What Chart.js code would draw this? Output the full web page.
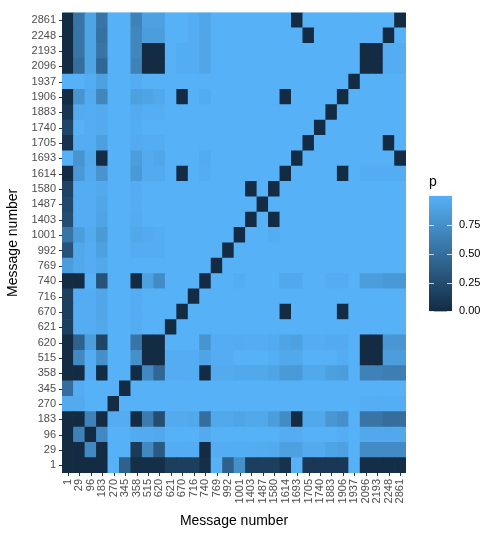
<!DOCTYPE html>
<html>
<head>
<meta charset="utf-8">
<title>Message number heatmap</title>
<script src="https://cdn.jsdelivr.net/npm/chart.js@4"></script>
<style>
    body { margin: 0; background: #ffffff; }
    #heat { position: absolute; left: 0; top: 0; }
    #bar { position: absolute; left: 420px; top: 165px; }
</style>
</head>
<body>
<canvas id="heat" width="498" height="536"></canvas>
<canvas id="bar" width="78" height="160"></canvas>
<script>
var messages = ['1','29','96','183','270','345','358','515','620','621',
    '670','716','740','769','992','1001','1403','1487','1580','1614',
    '1693','1705','1740','1883','1906','1937','2096','2193','2248','2861'];

var legendTicks = [0, 0.25, 0.5, 0.75];

// one line per y message, bottom row first, same column order as messages
var p = [
    [0,0,0,0,1,.4,.03,.03,.03,.15,  .15,.15,.03,1,.4,.75,.15,.15,.15,.05,  1,.1,.1,.1,.1,1,.02,.02,.02,.02],
    [0,0,.7,0,1,1,.12,.7,.35,.97,  .97,.97,0,.97,.97,.97,.97,.96,.95,.88,  .88,.95,.95,.9,.88,1,.72,.72,.72,.72],
    [0,.65,0,.7,1,1,.95,.95,.93,1,  1,1,.95,1,1,1,1,1,1,.97,  .97,1,1,1,.98,1,.93,.93,.93,.93],
    [0,0,.65,0,.97,.97,0,.6,.25,.95,  .95,.93,.5,.93,.93,.9,.93,.93,.85,.72,  0,.93,.93,.8,.75,1,.55,.55,.5,.5],
    [.95,.95,1,1,0,1,1,1,1,1,  1,1,1,1,1,1,1,1,1,1,  1,1,1,1,1,1,.98,.98,.98,.98],
    [.5,.97,1,1,1,0,1,1,1,1,  1,1,1,1,1,1,1,1,1,1,  1,1,1,1,1,1,1,1,1,1],
    [0,0,.97,0,1,1,0,.7,.45,.97,  .97,.97,0,.95,.95,.93,.93,.93,.9,.83,  .83,.93,.93,.87,.85,1,.65,.65,.62,.62],
    [0,.7,.97,.75,1,1,.75,0,0,.97,  .97,.97,.9,.97,.97,1,1,1,.98,.93,  .93,1,1,1,.97,1,0,0,.85,.85],
    [0,.4,.85,.2,1,1,.55,0,0,1,  1,1,.78,.97,.97,.96,.97,.97,.95,.9,  .88,.97,.97,.95,.95,1,0,0,.8,.8],
    [.15,.97,.97,.93,1,1,.97,1,1,0,  1,1,1,1,1,1,1,1,1,1,  1,1,1,1,1,1,1,1,1,1],
    [.15,.97,.97,.92,1,1,.97,1,1,1,  0,1,1,1,1,1,1,1,1,0,  1,1,1,1,0,1,1,1,1,1],
    [.15,.97,.97,.92,1,1,.97,1,1,1,  1,0,1,1,1,1,1,1,1,1,  1,1,1,1,1,1,1,1,1,1],
    [0,0,1,.3,1,1,0,.88,.72,1,  1,1,0,1,1,.97,1,1,1,.93,  .93,1,1,.97,.97,1,.85,.85,.82,.82],
    [.85,.93,.97,.93,1,1,1,1,1,1,  1,1,1,0,1,1,1,1,1,1,  1,1,1,1,1,1,1,1,1,1],
    [.3,.93,.97,.88,1,1,.97,.97,.97,1,  1,1,1,1,0,1,1,1,1,1,  1,1,1,1,1,1,1,1,1,1],
    [.55,.85,.95,.83,1,1,.93,.95,.97,1,  1,1,1,1,1,0,1,1,.97,1,  1,1,1,1,1,1,1,1,1,1],
    [.25,.97,.97,.9,1,1,.96,1,1,1,  1,1,1,1,1,1,0,1,0,1,  1,1,1,1,1,1,1,1,1,1],
    [.22,.97,.97,.92,1,1,.97,1,1,1,  1,1,1,1,1,1,1,0,1,1,  1,1,1,1,1,1,1,1,1,1],
    [.18,.97,.97,.94,1,1,.97,1,1,1,  1,1,1,1,1,1,0,1,0,1,  1,1,1,1,1,1,1,1,1,1],
    [0,.82,.95,.78,1,1,.82,.95,.95,1,  0,1,.97,1,1,1,1,1,1,0,  1,1,1,1,0,1,.97,.97,.97,.97],
    [1,.78,.93,0,1,1,.85,.95,.92,1,  1,1,.96,1,1,1,1,1,1,1,  0,1,1,1,1,1,1,1,1,0],
    [.05,.97,.97,.87,1,1,.95,.97,.97,1,  1,1,1,1,1,1,1,1,1,1,  1,0,1,1,1,1,1,1,0,1],
    [.2,1,.97,.95,1,1,.97,1,1,1,  1,1,1,1,1,1,1,1,1,1,  1,1,0,1,1,1,1,1,1,1],
    [.08,.95,.97,.95,1,1,.95,.98,.98,1,  1,1,1,1,1,1,1,1,1,1,  1,1,1,0,1,1,1,1,1,1],
    [0,.78,.95,.68,1,1,.88,.9,.93,1,  0,1,.96,1,1,1,1,1,1,0,  1,1,1,1,0,1,1,1,1,1],
    [1,1,.97,.88,1,1,.97,1,1,1,  1,1,1,1,1,1,1,1,1,1,  1,1,1,1,1,0,1,1,1,1],
    [0,.5,.9,.45,1,1,.65,0,0,1,  .97,.97,.92,1,1,1,1,1,1,1,  1,1,1,1,1,1,0,0,.97,.97],
    [0,.55,.9,.55,1,1,.68,0,0,1,  .97,.97,.92,1,1,1,1,1,1,1,  1,1,1,1,1,1,0,0,.97,.97],
    [0,.55,.9,.52,1,1,.68,.85,.85,1,  1,.97,.92,1,1,1,1,1,1,1,  1,0,1,1,1,1,1,1,0,1],
    [0,.55,.9,.55,1,1,.65,.88,.88,1,  1,.97,.92,1,1,1,1,1,1,1,  0,1,1,1,1,1,1,1,1,0]
];

var lowColor = [19, 43, 67];
var highColor = [86, 177, 247];
var textGrey = '#4d4d4d';
var fontName = '"Liberation Sans", Arial, sans-serif';

function pColor(v) {
    var c = lowColor.map(function (low, i) {
        return Math.round(low + (highColor[i] - low) * v);
    });
    return 'rgb(' + c.join(',') + ')';
}

// seams between half pixel cells should show the light colour, not white
var panelFill = {
    id: 'panelFill',
    beforeDatasetsDraw: function (chart) {
        var a = chart.chartArea;
        chart.ctx.fillStyle = pColor(1);
        chart.ctx.fillRect(a.left, a.top, a.width, a.height);
    }
};

var datasets = p.map(function (row, r) {
    return {
        label: messages[r],
        data: row.map(function () { return [r - 0.5, r + 0.5]; }),
        backgroundColor: row.map(pColor),
        barPercentage: 1,
        categoryPercentage: 1,
        grouped: false
    };
});

new Chart(document.getElementById('heat'), {
    type: 'bar',
    data: { labels: messages, datasets: datasets },
    plugins: [panelFill],
    options: {
        responsive: false,
        animation: false,
        layout: { padding: { left: 5, right: 92, top: 9, bottom: 6 } },
        plugins: { legend: { display: false }, tooltip: { enabled: false } },
        scales: {
            x: {
                grid: { display: false, drawTicks: false },
                border: { display: false },
                ticks: {
                    display: true,
                    autoSkip: false,
                    minRotation: 90,
                    maxRotation: 90,
                    padding: 6,
                    color: textGrey,
                    font: { family: fontName, size: 11 }
                },
                title: {
                    display: true,
                    text: 'Message number',
                    color: '#000000',
                    padding: { top: 3, bottom: 0 },
                    font: { family: fontName, size: 14 }
                },
                afterFit: function (scale) { scale.height = 57; }
            },
            y: {
                type: 'linear',
                min: -0.5,
                max: 29.5,
                grid: { display: false, drawTicks: false },
                border: { display: false },
                afterBuildTicks: function (scale) {
                    scale.ticks = messages.map(function (m, i) { return { value: i }; });
                },
                ticks: {
                    autoSkip: false,
                    padding: 6,
                    color: textGrey,
                    font: { family: fontName, size: 11 },
                    callback: function (value) { return messages[value]; }
                },
                title: {
                    display: true,
                    text: 'Message number',
                    color: '#000000',
                    padding: { top: 0, bottom: 2 },
                    font: { family: fontName, size: 14 }
                },
                afterFit: function (scale) { scale.width = 57; }
            }
        }
    }
});

// tick marks, short dark ones outside the panel like ggplot
var axisTicks = {
    id: 'axisTicks',
    afterDraw: function (chart) {
        var ctx = chart.ctx, a = chart.chartArea;
        ctx.save();
        ctx.strokeStyle = '#333333';
        ctx.lineWidth = 1;
        ctx.beginPath();
        chart.scales.x.ticks.forEach(function (t, i) {
            var x = Math.round(chart.scales.x.getPixelForTick(i)) + 0.5;
            ctx.moveTo(x, a.bottom);
            ctx.lineTo(x, a.bottom + 3);
        });
        chart.scales.y.ticks.forEach(function (t) {
            var y = Math.round(chart.scales.y.getPixelForValue(t.value)) + 0.5;
            ctx.moveTo(a.left - 3, y);
            ctx.lineTo(a.left, y);
        });
        ctx.stroke();
        ctx.restore();
    }
};
Chart.getChart('heat').config.plugins.push(axisTicks);
Chart.getChart('heat').update();

// white ticks on both edges of the colour bar
var barTicks = {
    id: 'barTicks',
    afterDraw: function (chart) {
        var ctx = chart.ctx, a = chart.chartArea, s = chart.scales.y;
        ctx.save();
        ctx.strokeStyle = 'rgba(255,255,255,0.75)';
        ctx.lineWidth = 1;
        ctx.beginPath();
        legendTicks.forEach(function (v) {
            var y = Math.round(s.getPixelForValue(v)) + 0.5;
            ctx.moveTo(a.left, y);
            ctx.lineTo(a.left + 5, y);
            ctx.moveTo(a.right - 5, y);
            ctx.lineTo(a.right, y);
        });
        ctx.stroke();
        ctx.restore();
    }
};

new Chart(document.getElementById('bar'), {
    type: 'bar',
    data: {
        labels: ['p'],
        datasets: [{
            data: [[0, 1]],
            barPercentage: 1,
            categoryPercentage: 1,
            backgroundColor: function (ctx) {
                var a = ctx.chart.chartArea;
                if (!a) { return pColor(1); }
                var g = ctx.chart.ctx.createLinearGradient(0, a.bottom, 0, a.top);
                g.addColorStop(0, pColor(0));
                g.addColorStop(1, pColor(1));
                return g;
            }
        }]
    },
    plugins: [barTicks],
    options: {
        responsive: false,
        animation: false,
        layout: { padding: { left: 9, right: 0, top: 0, bottom: 10 } },
        plugins: {
            legend: { display: false },
            tooltip: { enabled: false },
            title: {
                display: true,
                text: 'p',
                align: 'start',
                color: '#000000',
                padding: { top: 9, bottom: 5 },
                font: { family: fontName, size: 14, weight: 'normal' }
            }
        },
        scales: {
            x: { display: false },
            y: {
                position: 'right',
                min: 0,
                max: 1,
                grid: { display: false, drawTicks: false },
                border: { display: false },
                afterBuildTicks: function (scale) {
                    scale.ticks = legendTicks.map(function (v) { return { value: v }; });
                },
                ticks: {
                    padding: 7,
                    color: '#000000',
                    font: { family: fontName, size: 11 },
                    callback: function (value) { return value.toFixed(2); }
                },
                afterFit: function (scale) { scale.width = 46; }
            }
        }
    }
});
</script>
</body>
</html>
